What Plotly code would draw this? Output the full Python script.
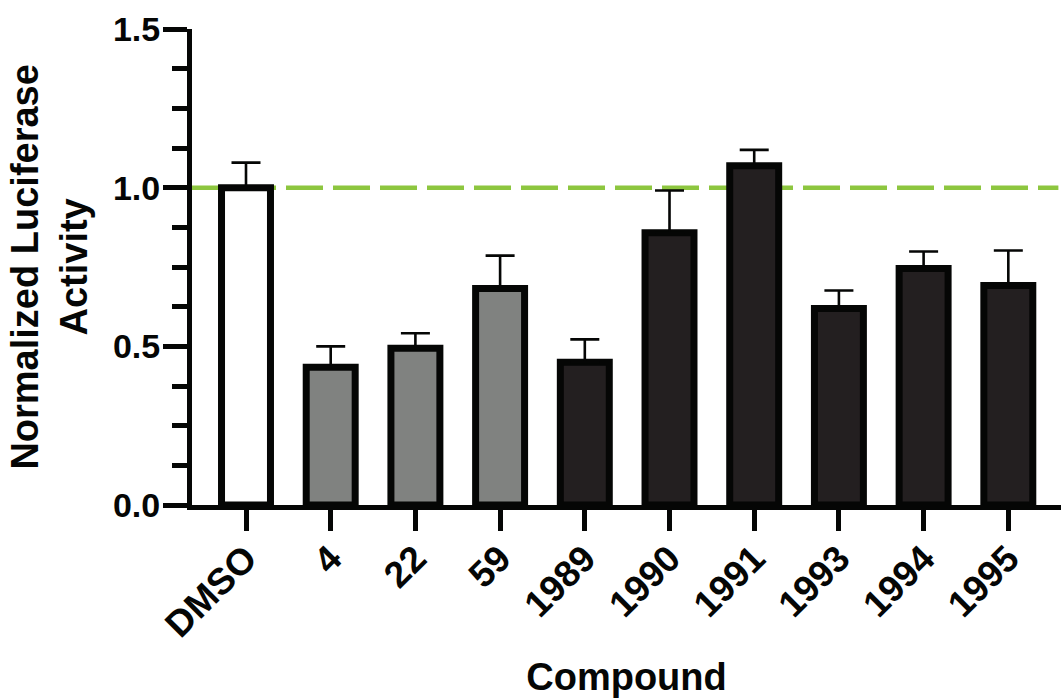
import plotly.graph_objects as go

# Luciferase reporter data, normalized to the DMSO control
compounds = ["DMSO", "4", "22", "59", "1989", "1990", "1991", "1993", "1994", "1995"]
activity = [1.00, 0.434, 0.494, 0.682, 0.450, 0.858, 1.069, 0.619, 0.745, 0.692]
sem = [0.079, 0.066, 0.047, 0.104, 0.072, 0.133, 0.050, 0.057, 0.054, 0.110]
groups = ["control", "ref", "ref", "ref", "new", "new", "new", "new", "new", "new"]
y_ticks = [0.0, 0.5, 1.0, 1.5]

group_fill = {"control": "#FFFFFF", "ref": "#808280", "new": "#231F20"}
ink = "#050605"
font_family = "Arial, 'Liberation Sans', Helvetica, sans-serif"

fig = go.Figure()
fig.add_trace(go.Bar(
    x=compounds,
    y=activity,
    width=0.578,
    marker=dict(color=[group_fill[g] for g in groups],
                line=dict(color=ink, width=7)),
    error_y=dict(type="data", array=sem, symmetric=False,
                 arrayminus=[0] * len(sem),
                 color=ink, thickness=2.6, width=14.5),
    showlegend=False,
))

# dashed reference line at the control level
fig.add_shape(type="line", xref="paper", yref="y", x0=0, x1=0.997,
              y0=1.0, y1=1.0, layer="below",
              line=dict(color="#8DC63F", width=4.5, dash="37px,10px"))

fig.update_layout(
    width=1061, height=698,
    margin=dict(l=192, r=0, t=29, b=193),
    paper_bgcolor="white", plot_bgcolor="white",
    font=dict(family=font_family, color=ink),
    xaxis=dict(
        type="category",
        range=[-0.6375, 9.622],
        showline=True, linecolor=ink, linewidth=5,
        ticks="outside", ticklen=21, tickwidth=5, tickcolor=ink,
        tickangle=-45,
        ticklabelstandoff=-9,
        tickfont=dict(size=37, family=font_family, color=ink, weight="bold"),
        showgrid=False, zeroline=False,
        title=dict(text="<b>Compound</b>", font=dict(size=38), standoff=26),
    ),
    yaxis=dict(
        range=[0, 1.5],
        tickvals=y_ticks,
        ticktext=[f"{v:.1f}" for v in y_ticks],
        showline=True, linecolor=ink, linewidth=5,
        ticks="outside", ticklen=24, tickwidth=5, tickcolor=ink,
        ticklabelstandoff=-4,
        tickfont=dict(size=34, family=font_family, color=ink, weight="bold"),
        minor=dict(dtick=0.125, tick0=0, ticks="outside", ticklen=15,
                   tickwidth=5, tickcolor=ink),
        showgrid=False, zeroline=False,
    ),
)

fig.add_annotation(
    text="<b>Normalized Luciferase<br>Activity</b>",
    xref="paper", yref="paper", x=-0.165, y=0.5, xanchor="center",
    yanchor="middle", textangle=-90, showarrow=False,
    font=dict(size=38, family=font_family, color=ink),
)

fig.write_html("out.html")
